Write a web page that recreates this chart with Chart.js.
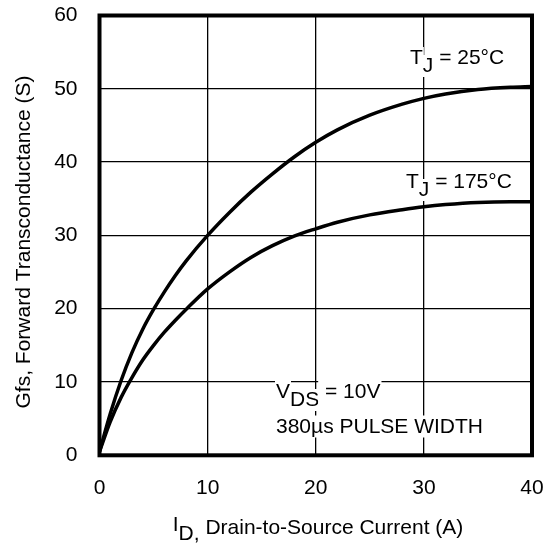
<!DOCTYPE html>
<html>
<head>
<meta charset="utf-8">
<script src="https://cdn.jsdelivr.net/npm/chart.js@4.4.0/dist/chart.umd.min.js"></script>
<style>
  html, body { margin: 0; padding: 0; background: #fff; }
  #wrap { width: 553px; height: 544px; position: relative; }
</style>
</head>
<body>
<div id="wrap"><canvas id="c" width="553" height="544"></canvas></div>
<script>
// Drain current I_D (A)
const xValues = [0, 1, 2, 3, 4, 5, 6, 7, 8, 10, 12, 14, 16, 18, 20, 22, 25, 28, 30, 32, 35, 38, 40];
// Gfs (S) at TJ = 25°C
const gfs25 = [0.5, 5.7, 10.2, 14, 17.2, 19.9, 22.3, 24.5, 26.5, 30, 33.1, 35.9, 38.4, 40.7, 42.7, 44.4, 46.4, 47.9, 48.7, 49.3, 49.9, 50.2, 50.3];
// Gfs (S) at TJ = 175°C
const gfs175 = [0.5, 4.6, 7.9, 10.6, 13, 15, 16.8, 18.4, 19.9, 22.7, 25, 27, 28.6, 29.9, 30.9, 31.8, 32.8, 33.5, 33.9, 34.2, 34.5, 34.6, 34.6];
const xTicks = [0, 10, 20, 30, 40];
const yTicks = [0, 10, 20, 30, 40, 50, 60];

const FONT = '"Liberation Sans", Arial, Helvetica, sans-serif';
const FS = 21;

function pts(ys) { return xValues.map((x, i) => ({ x: x, y: ys[i] })); }

function drawRuns(ctx, x, baseline, runs) {
  ctx.save();
  ctx.font = FS + 'px ' + FONT;
  ctx.textBaseline = 'alphabetic';
  ctx.textAlign = 'left';
  let cx = x;
  for (const r of runs) {
    const w = ctx.measureText(r.t).width;
    const by = baseline + (r.dy || 0);
    if (r.bg) {
      ctx.fillStyle = '#fff';
      ctx.fillRect(cx - 1, by - 17, w + 2, 22);
    }
    ctx.fillStyle = '#000';
    ctx.fillText(r.t, cx, by);
    cx += w;
  }
  ctx.restore();
}

const annot = {
  id: 'annot',
  beforeDatasetsDraw(chart) {
    const ctx = chart.ctx;
    drawRuns(ctx, 410, 64, [{ t: 'T', bg: true }, { t: 'J', dy: 8, bg: true }, { t: ' = 25°C', bg: true }]);
    drawRuns(ctx, 406, 188, [{ t: 'T', bg: true }, { t: 'J', dy: 8, bg: true }, { t: ' = 175°C', bg: true }]);
    drawRuns(ctx, 276, 398, [{ t: 'V', bg: true }, { t: 'DS', dy: 8, bg: true }, { t: ' = 10V', bg: true }]);
    drawRuns(ctx, 276, 432.5, [{ t: '380µs PULSE WIDTH', bg: true }]);
  },
  afterDraw(chart) {
    const ctx = chart.ctx;
    const a = chart.chartArea;
    ctx.save();
    ctx.strokeStyle = '#000';
    ctx.lineWidth = 4;
    ctx.strokeRect(a.left, a.top, a.right - a.left, a.bottom - a.top);
    ctx.restore();
    ctx.save();
    ctx.font = FS + 'px ' + FONT;
    const runs = [{ t: 'I', dy: 0 }, { t: 'D,', dy: 9 }, { t: ' Drain-to-Source Current (A)', dy: 3 }];
    let tw = 0;
    for (const r of runs) tw += ctx.measureText(r.t).width;
    ctx.restore();
    drawRuns(ctx, 318 - tw / 2, 531, runs);
    ctx.save();
    ctx.font = FS + 'px ' + FONT;
    ctx.fillStyle = '#000';
    ctx.translate(24, 242);
    ctx.rotate(-Math.PI / 2);
    ctx.textAlign = 'center';
    ctx.textBaseline = 'middle';
    ctx.fillText('Gfs, Forward Transconductance (S)', 0, 0);
    ctx.restore();
  }
};

new Chart(document.getElementById('c'), {
  type: 'scatter',
  data: {
    datasets: [
      { label: 'TJ = 25°C', data: pts(gfs25), showLine: true, borderColor: '#000', borderWidth: 3.5, pointRadius: 0, cubicInterpolationMode: 'monotone', fill: false },
      { label: 'TJ = 175°C', data: pts(gfs175), showLine: true, borderColor: '#000', borderWidth: 3.5, pointRadius: 0, cubicInterpolationMode: 'monotone', fill: false }
    ]
  },
  options: {
    responsive: false,
    animation: false,
    devicePixelRatio: 1,
    layout: { padding: { left: 0, right: 21, top: 15.5, bottom: 0 } },
    plugins: { legend: { display: false }, tooltip: { enabled: false } },
    scales: {
      x: {
        type: 'linear', min: 0, max: 40,
        afterBuildTicks: s => { s.ticks = xTicks.map(v => ({ value: v })); },
        afterFit: s => { s.height = 88.7; s.paddingLeft = 0; s.paddingRight = 0; },
        grid: { color: '#000', lineWidth: 1.3, drawTicks: false },
        border: { display: false },
        ticks: { color: '#000', font: { family: FONT, size: FS }, padding: 20, maxRotation: 0 }
      },
      y: {
        type: 'linear', min: 0, max: 60,
        afterBuildTicks: s => { s.ticks = yTicks.map(v => ({ value: v })); },
        afterFit: s => { s.width = 99.5; s.paddingTop = 0; s.paddingBottom = 0; },
        grid: { color: '#000', lineWidth: 1.3, drawTicks: false },
        border: { display: false },
        ticks: { color: '#000', font: { family: FONT, size: FS }, padding: 22 }
      }
    }
  },
  plugins: [annot]
});
</script>
</body>
</html>
